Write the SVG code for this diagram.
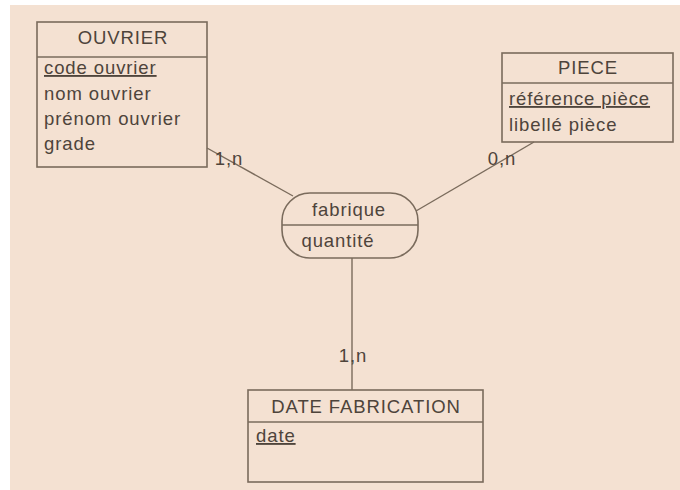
<svg xmlns="http://www.w3.org/2000/svg" width="680" height="490" viewBox="0 0 680 490">
<style>
.box{fill:none;stroke:#7a6b5c;stroke-width:1.6}
.ln{stroke:#7a6b5c;stroke-width:1.4;fill:none}
text{font-family:"Liberation Sans",Arial,sans-serif;font-size:18.5px;letter-spacing:0.9px;fill:#4e443b}
.c{text-anchor:middle}
.u{text-decoration:underline}
</style>
<rect x="0" y="0" width="680" height="490" fill="#ffffff"/>
<rect x="10" y="5" width="670" height="485" fill="#f4e1d2"/>
<g id="connectors">
<line class="ln" x1="207" y1="148" x2="293" y2="196"/>
<line class="ln" x1="534" y1="142" x2="416" y2="211"/>
<line class="ln" x1="352" y1="258" x2="352" y2="390"/>
<text x="229" y="165" class="c">1,n</text>
<text x="502" y="165" class="c">0,n</text>
<text x="353" y="362" class="c">1,n</text>
</g>
<g id="ouvrier">
<rect class="box" x="37" y="22" width="170" height="145"/>
<line class="ln" x1="37" y1="57" x2="207" y2="57"/>
<text x="123" y="44" class="c">OUVRIER</text>
<text x="44" y="74" class="u">code ouvrier</text>
<text x="44" y="100">nom ouvrier</text>
<text x="44" y="125">prénom ouvrier</text>
<text x="44" y="150">grade</text>
</g>
<g id="piece">
<rect class="box" x="502" y="53" width="171" height="89"/>
<line class="ln" x1="502" y1="83" x2="673" y2="83"/>
<text x="588" y="74" class="c">PIECE</text>
<text x="509" y="105" class="u">référence pièce</text>
<text x="509" y="131">libellé pièce</text>
</g>
<g id="fabrique">
<rect class="box" x="282" y="193" width="136" height="65" rx="28" ry="28"/>
<line class="ln" x1="282" y1="225" x2="418" y2="225"/>
<text x="349" y="216" class="c">fabrique</text>
<text x="338" y="247" class="c">quantité</text>
</g>
<g id="date-fabrication">
<rect class="box" x="248" y="390" width="235" height="92"/>
<line class="ln" x1="248" y1="422" x2="483" y2="422"/>
<text x="366" y="413" class="c">DATE FABRICATION</text>
<text x="256" y="442" class="u">date</text>
</g>
</svg>
